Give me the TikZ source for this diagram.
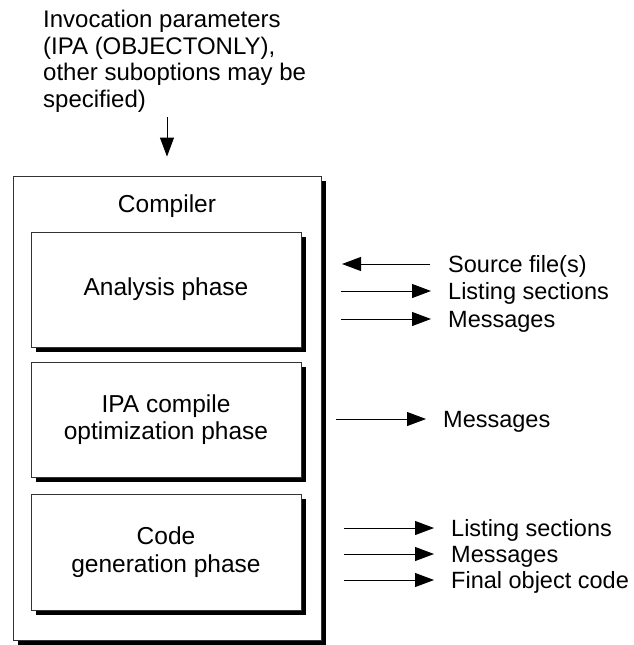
\documentclass[tikz,border=0pt]{standalone}
\usepackage{fontspec}
\setmainfont{Liberation Sans}
\usetikzlibrary{arrows.meta,shadows}

\begin{document}
\begin{tikzpicture}[x=1pt, y=-1pt, >={Triangle[length=19pt,width=14pt]},
  font=\fontsize{24.5pt}{27.5pt}\selectfont,
  phasebox/.style={draw=black!80, line width=0.9pt, fill=white, minimum width=270pt, align=center, inner sep=0pt,
    drop shadow={shadow xshift=5pt, shadow yshift=-5pt, opacity=1, fill=black}},
  outlbl/.style={anchor=west, inner sep=0pt, text height=17pt, text depth=0pt, font=\fontsize{23.5pt}{27pt}\selectfont},
  flow/.style={->, line width=0.9pt}]
  \useasboundingbox (0,0) rectangle (634,645);
  \node[anchor=north west, align=left, inner sep=0pt, font=\fontsize{24pt}{26.5pt}\selectfont] (ipa) at (43,10)
    {Invocation parameters\\(IPA (OBJECTONLY),\\other suboptions may be\\specified)};
  % compiler with its three phases
  \node[phasebox, minimum width=308pt, minimum height=464pt] (comp) at (167,408) {};
  \node (complbl) at (167,206) {Compiler};
  \node[phasebox, minimum height=115pt] (ana) at (166,289.5) {Analysis phase};
  \node[phasebox, minimum height=115pt] (opt) at (166,419.5) {IPA compile\\optimization phase};
  \node[phasebox, minimum height=116pt] (cg) at (166,552) {Code\\generation phase};
  \coordinate (ipain) at (167,117);
  \draw[flow, shorten >=19pt] (ipain) -- (ipain |- comp.north);
  % inputs and outputs
  \node[outlbl] (src) at (448,264) {Source file(s)};
  \node[outlbl] (anlst) at (448,291) {Listing sections};
  \node[outlbl] (anmsg) at (448,319) {Messages};
  \node[outlbl] (optmsg) at (443,419) {Messages};
  \node[outlbl] (cglst) at (451,528) {Listing sections};
  \node[outlbl] (cgmsg) at (451,554) {Messages};
  \node[outlbl] (obj) at (451,580) {Final object code};
  \draw[flow, <-] ([xshift=-106pt]src.west) -- ([xshift=-18pt]src.west);
  \foreach \l in {anlst,anmsg,optmsg,cglst,cgmsg,obj}
    \draw[flow] ([xshift=-107pt]\l.west) -- ([xshift=-17pt]\l.west);
\end{tikzpicture}
\end{document}
